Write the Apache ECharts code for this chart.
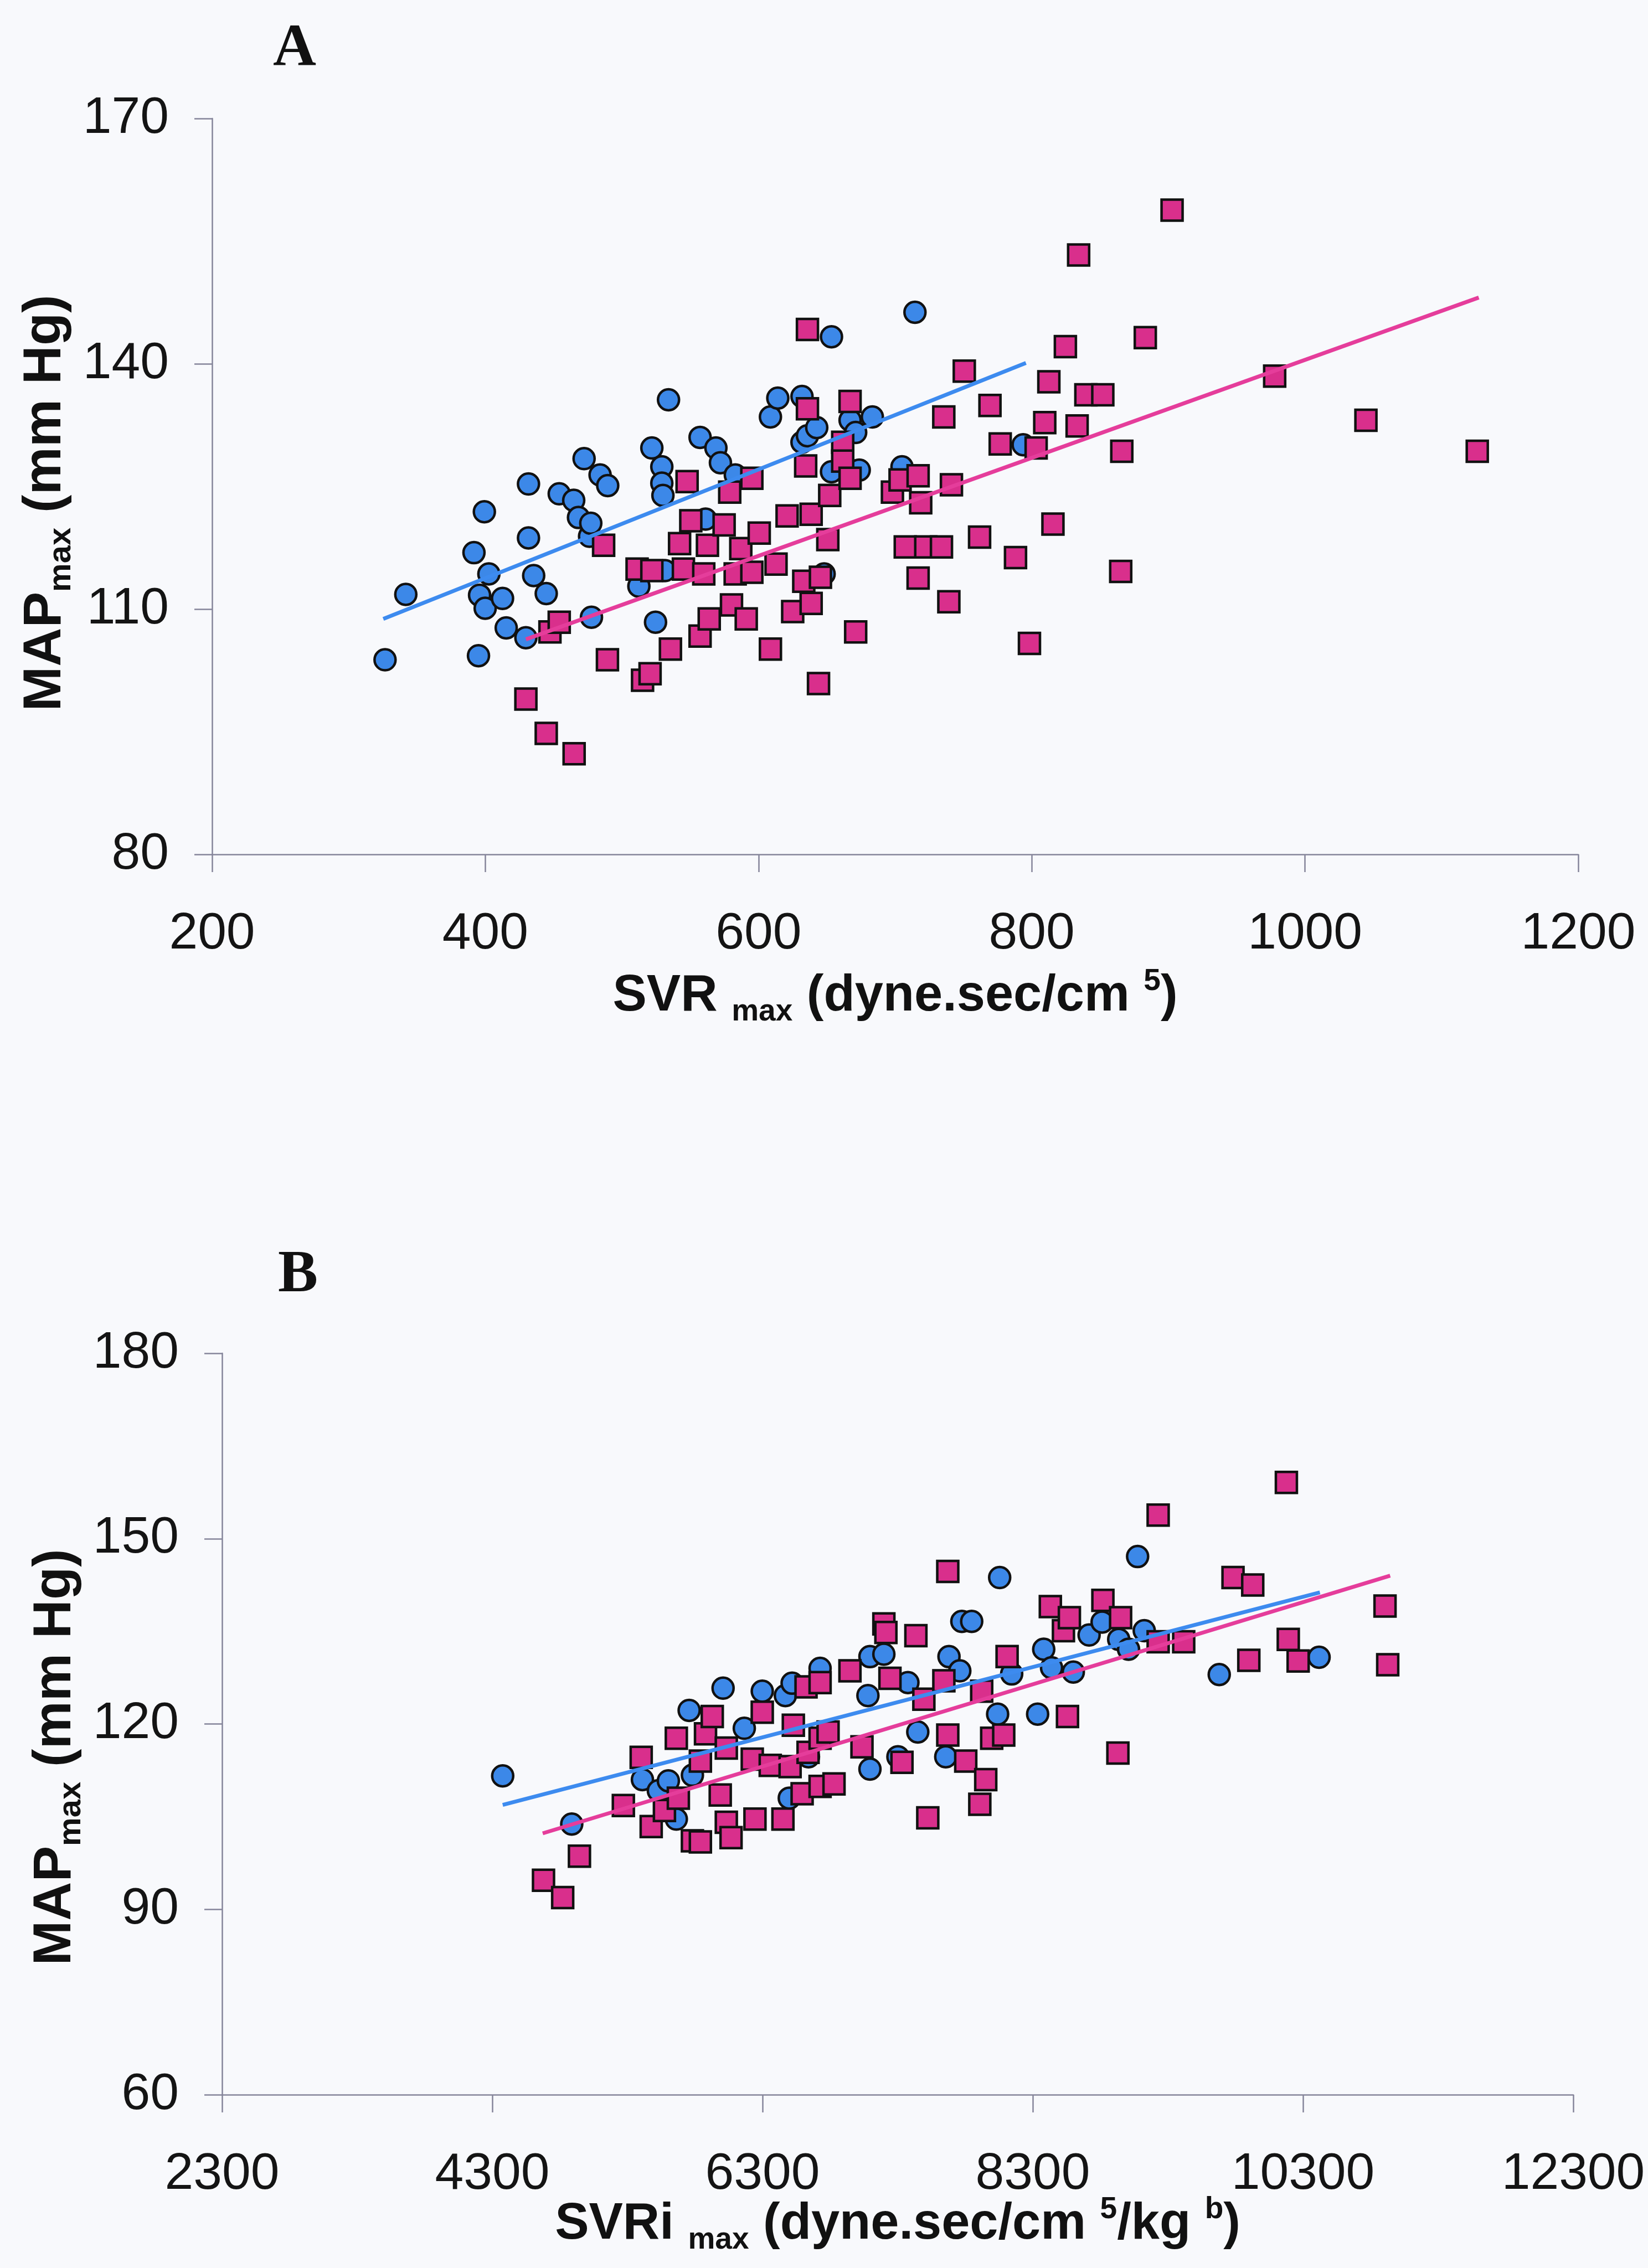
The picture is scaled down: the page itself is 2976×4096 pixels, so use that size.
<!DOCTYPE html>
<html>
<head>
<meta charset="utf-8">
<title>MAPmax vs SVRmax / SVRimax</title>
<script src="https://cdn.jsdelivr.net/npm/echarts@6/dist/echarts.min.js"></script>
<style>
  html, body { margin: 0; padding: 0; background: #f8f9fc; }
  #chart { width: 2976px; height: 4096px; }
</style>
</head>
<body>
<div id="chart"></div>
<script>
// ---- Panel A: MAPmax (mm Hg) against SVRmax (dyne.sec/cm5) ----
// circles, [SVRmax, MAPmax]
const circlesA = [
  [326.6,103.8],[341.8,111.8],[391.7,116.9],[395.0,104.3],[395.8,111.7],[399.3,121.9],
  [399.9,110.1],[402.6,114.3],[412.6,111.3],[415.3,107.7],[429.7,106.5],[431.6,125.3],
  [431.6,118.7],[435.4,114.1],[444.6,111.9],[454.1,124.1],[464.7,123.3],[468.2,121.2],
  [472.3,128.4],[476.3,118.9],[477.2,120.5],[477.7,109.0],[484.0,126.4],[489.6,125.1],
  [512.4,112.8],[521.9,129.7],[524.6,108.4],[529.2,127.4],[529.2,125.4],[530.0,123.9],
  [531.4,114.7],[534.1,135.6],[557.2,131.0],[561.2,121.0],[568.8,129.7],[572.1,127.9],
  [583.0,126.4],[608.7,133.5],[614.1,135.8],[631.8,136.0],[631.8,130.4],[635.8,131.2],
  [642.6,132.2],[648.0,114.3],[653.4,143.3],[653.4,126.8],[667.0,133.1],[671.1,131.6],
  [673.7,127.0],[683.3,133.5],[705.0,127.4],[714.5,146.3],[793.7,130.1]
];
// squares, [SVRmax, MAPmax]
const squaresA = [
  [429.7,99.0],[444.6,94.8],[465.0,92.3],[447.3,107.2],[454.1,108.4],[489.4,103.8],
  [486.6,117.8],[515.1,101.3],[520.6,102.1],[511.1,114.9],[521.9,114.7],[535.5,105.1],
  [542.2,118.0],[545.0,114.9],[547.7,125.6],[550.4,120.8],[557.2,106.7],[559.9,114.3],
  [562.6,117.8],[563.9,108.8],[574.8,120.3],[578.9,124.3],[580.2,110.5],[582.9,114.3],
  [587.0,117.4],[591.0,108.8],[595.1,126.0],[595.1,114.5],[600.5,119.3],[608.7,105.1],
  [612.8,115.5],[620.9,121.4],[625.0,109.7],[633.1,113.4],[634.5,127.5],[635.8,144.2],
  [635.8,134.5],[638.5,121.6],[638.5,110.7],[643.9,100.9],[645.3,113.9],[650.7,118.5],
  [652.1,123.9],[661.6,130.4],[661.6,128.1],[667.0,135.4],[667.0,126.0],[671.1,107.2],
  [698.0,124.3],[703.6,125.8],[707.4,117.6],[716.8,126.3],[716.8,113.8],[718.7,123.0],
  [722.4,117.6],[733.9,117.6],[735.6,133.5],[739.3,110.9],[741.2,125.2],[750.6,139.1],
  [761.8,118.8],[769.4,134.9],[776.9,130.2],[788.1,116.3],[798.3,105.8],[803.2,129.7],
  [809.5,132.8],[812.5,137.8],[815.5,120.4],[824.6,142.1],[833.2,132.4],[834.3,153.3],
  [839.6,136.2],[852.0,136.2],[865.1,114.6],[865.9,129.3],[883.1,143.2],[902.7,158.8],
  [977.8,138.5],[1044.6,133.1],[1126.1,129.3]
];
// fitted regression lines (end points)
const fitCirclesA = [[325.3,108.8],[795.7,140.1]];
const fitSquaresA = [[429.7,106.3],[1127.2,148.1]];
const xTicksA = [200, 400, 600, 800, 1000, 1200];
const yTicksA = [80, 110, 140, 170];

// ---- Panel B: MAPmax (mm Hg) against SVRimax (dyne.sec/cm5/kg^b) ----
const circlesB = [
  [4377,111.6],[4888,103.8],[5411,111.0],[5529,109.2],[5603,110.8],[5662,104.6],
  [5757,122.2],[5781,111.7],[6008,125.8],[6165,119.3],[6298,125.3],[6469,124.6],
  [6498,108.0],[6519,126.6],[6640,114.7],[6726,129.0],[7080,124.6],[7095,130.9],
  [7095,112.7],[7198,131.3],[7302,114.7],[7376,126.7],[7449,118.7],[7656,114.7],
  [7680,130.9],[7760,128.6],[7775,136.6],[7848,136.6],[8040,121.6],[8055,143.7],
  [8144,128.1],[8336,121.6],[8381,132.1],[8439,129.1],[8600,128.4],[8717,134.4],
  [8813,136.5],[8936,133.7],[9009,132.1],[9076,147.1],[9125,135.1],[9680,128.0],
  [10419,130.8]
];
const squaresB = [
  [4679,94.7],[4821,91.9],[4945,98.6],[5270,106.8],[5402,114.6],[5476,103.4],
  [5574,106.0],[5662,117.7],[5677,108.0],[5781,101.1],[5840,100.9],[5840,114.0],
  [5878,118.4],[5928,121.2],[5987,108.5],[6032,104.1],[6032,116.1],[6067,101.6],
  [6224,114.3],[6244,104.6],[6298,121.9],[6357,113.3],[6451,104.6],[6504,113.1],
  [6528,119.8],[6593,108.7],[6622,126.0],[6637,115.4],[6726,126.7],[6726,117.7],
  [6726,109.9],[6785,118.7],[6829,110.3],[6947,128.6],[7036,116.3],[7198,136.2],
  [7213,134.8],[7243,127.4],[7332,113.8],[7435,134.3],[7494,124.0],[7523,104.8],
  [7642,127.0],[7671,144.7],[7671,118.2],[7804,114.0],[7908,107.0],[7922,125.3],
  [7952,111.0],[7996,117.7],[8085,118.2],[8110,130.9],[8430,139.0],[8527,135.1],
  [8557,121.2],[8571,137.2],[8819,140.0],[8930,115.3],[8950,137.2],[9228,153.8],
  [9228,133.3],[9417,133.3],[9782,143.7],[9899,130.3],[9928,142.5],[10177,159.1],
  [10191,133.7],[10264,130.2],[10907,139.1],[10927,129.6]
];
const fitCirclesB = [[4377,106.9],[10425,141.3]];
const fitSquaresB = [[4673,102.3],[10945,144.0]];
const xTicksB = [2300, 4300, 6300, 8300, 10300, 12300];
const yTicksB = [60, 90, 120, 150, 180];

// ---- styling ----
const SANS = '"Liberation Sans", Arial, sans-serif';
const AXIS_COLOR = '#85859a';
const BLUE = '#3c88e8';
const PINK = '#d92f8c';
const BLUE_LINE = '#3d8bef';
const PINK_LINE = '#e53d9b';

// plain numbers, no thousands separator
const plain = v => String(v);

// rich text pieces for axis titles: main, subscript, superscript
function titleRich(F) {
  return {
    b: { fontSize: F, fontWeight: 'bold', fontFamily: SANS, color: '#111', lineHeight: Math.round(F * 1.2), verticalAlign: 'middle' },
    s: { fontSize: Math.round(F * 0.6), fontWeight: 'bold', fontFamily: SANS, color: '#111', lineHeight: Math.round(F * 0.52), verticalAlign: 'bottom' },
    p: { fontSize: Math.round(F * 0.6), fontWeight: 'bold', fontFamily: SANS, color: '#111', lineHeight: Math.round(F * 0.79), verticalAlign: 'top' }
  };
}

function xAxisDef(gridIndex, min, max, ticks, name, nameGap) {
  return {
    gridIndex, type: 'value', min, max,
    axisLine: { show: true, onZero: false, lineStyle: { color: AXIS_COLOR, width: 2.5 } },
    axisTick: { show: true, inside: false, length: 32, customValues: ticks, lineStyle: { color: AXIS_COLOR, width: 2.5 } },
    axisLabel: { customValues: ticks, formatter: plain, fontSize: 93, color: '#141414', fontFamily: SANS, margin: 98 },
    splitLine: { show: false },
    name, nameLocation: 'middle', nameGap, nameMoveOverlap: false,
    nameTextStyle: { rich: titleRich(92) }
  };
}

function yAxisDef(gridIndex, min, max, ticks, name, nameGap, shiftDown) {
  return {
    gridIndex, type: 'value', min, max,
    axisLine: { show: true, onZero: false, lineStyle: { color: AXIS_COLOR, width: 2.5 } },
    axisTick: { show: true, inside: false, length: 32, customValues: ticks, lineStyle: { color: AXIS_COLOR, width: 2.5 } },
    axisLabel: { customValues: ticks, formatter: plain, fontSize: 93, color: '#141414', fontFamily: SANS, margin: 78 },
    splitLine: { show: false },
    name, nameLocation: 'middle', nameGap, nameMoveOverlap: false,
    nameTextStyle: { rich: titleRich(97), padding: [0, shiftDown * 2, 0, 0] }
  };
}

function scatter(idx, data, symbol, color) {
  return {
    type: 'scatter', xAxisIndex: idx, yAxisIndex: idx, data, symbol,
    symbolSize: 38,
    itemStyle: { color, borderColor: '#111', borderWidth: 4.5, opacity: 1 },
    z: 3
  };
}

function fitLine(idx, data, color) {
  return {
    type: 'line', xAxisIndex: idx, yAxisIndex: idx, data,
    symbol: 'none', showSymbol: false,
    lineStyle: { color, width: 7 },
    z: 5
  };
}

const chart = echarts.init(document.getElementById('chart'), null, { renderer: 'canvas' });
chart.setOption({
  backgroundColor: '#f8f9fc',
  animation: false,
  grid: [
    { left: 383, top: 214, width: 2467, height: 1329, outerBoundsMode: 'none', containLabel: false },
    { left: 401, top: 2444, width: 2440, height: 1339, outerBoundsMode: 'none', containLabel: false }
  ],
  xAxis: [
    xAxisDef(0, 200, 1200, xTicksA, '{b|SVR }{s|max}{b| (dyne.sec/cm }{p|5}{b|)}', 202),
    xAxisDef(1, 2300, 12300, xTicksB, '{b|SVRi }{s|max}{b| (dyne.sec/cm }{p|5}{b|/kg }{p|b}{b|)}', 180)
  ],
  yAxis: [
    yAxisDef(0, 80, 170, yTicksA, '{b|MAP}{s|max}{b| (mm Hg)}', 243, 30),
    yAxisDef(1, 60, 180, yTicksB, '{b|MAP}{s|max}{b| (mm Hg)}', 243, 60)
  ],
  graphic: [
    { type: 'text', x: 532, y: 90, style: { text: 'A', fill: '#111', fontSize: 108, fontWeight: 'bold', fontFamily: '"Liberation Serif", "Times New Roman", serif', align: 'center', verticalAlign: 'middle' } },
    { type: 'text', x: 538, y: 2304, style: { text: 'B', fill: '#111', fontSize: 108, fontWeight: 'bold', fontFamily: '"Liberation Serif", "Times New Roman", serif', align: 'center', verticalAlign: 'middle' } }
  ],
  series: [
    scatter(0, circlesA, 'circle', BLUE),
    scatter(0, squaresA, 'rect', PINK),
    fitLine(0, fitCirclesA, BLUE_LINE),
    fitLine(0, fitSquaresA, PINK_LINE),
    scatter(1, circlesB, 'circle', BLUE),
    scatter(1, squaresB, 'rect', PINK),
    fitLine(1, fitCirclesB, BLUE_LINE),
    fitLine(1, fitSquaresB, PINK_LINE)
  ]
});
</script>
</body>
</html>
